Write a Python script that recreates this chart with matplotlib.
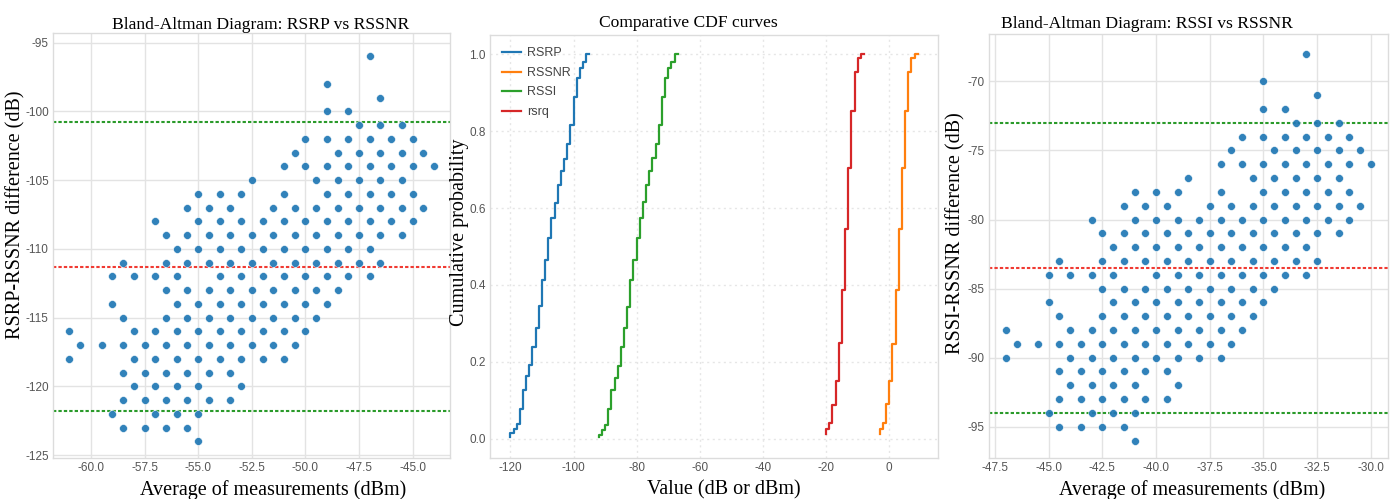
import matplotlib
matplotlib.use("Agg")
import matplotlib.pyplot as plt
import numpy as np

# Bland-Altman points, RSRP vs RSSNR: difference -> list of means
rsrp_ba_rows = {
    -96: [-47],
    -98: [-49],
    -99: [-46.5],
    -100: [-49, -48],
    -101: [-47.5, -46.5, -45.5],
    -102: [-50, -49, -48, -47, -46, -45],
    -103: [-50.5, -48.5, -47.5, -46.5, -45.5, -44.5],
    -104: [-51, -50, -49, -48, -47, -46, -45, -44],
    -105: [-52.5, -49.5, -48.5, -47.5, -46.5, -45.5],
    -106: [-55, -54, -53, -51, -49, -48, -47, -46, -45],
    -107: [-55.5, -54.5, -53.5, -51.5, -50.5, -49.5, -48.5, -47.5, -46.5, -45.5, -44.5],
    -108: [-57, -55, -54, -53, -52, -51, -50, -49, -48, -47, -46, -45],
    -109: [-56.5, -55.5, -54.5, -53.5, -52.5, -51.5, -50.5, -49.5, -48.5, -47.5, -46.5, -45.5],
    -110: [-56, -55, -54, -53, -52, -51, -50, -49, -48, -47],
    -111: [-58.5, -56.5, -55.5, -54.5, -53.5, -52.5, -51.5, -50.5, -49.5, -48.5, -47.5, -46.5],
    -112: [-59, -58, -57, -56, -54, -53, -52, -51, -50, -49, -48, -47],
    -113: [-56.5, -55.5, -54.5, -53.5, -52.5, -51.5, -50.5, -49.5, -48.5],
    -114: [-59, -56, -55, -54, -53, -52, -51, -50, -49],
    -115: [-58.5, -56.5, -55.5, -54.5, -53.5, -52.5, -51.5, -50.5, -49.5],
    -116: [-61, -58, -57, -56, -55, -54, -53, -52, -51, -50],
    -117: [-60.5, -59.5, -58.5, -57.5, -56.5, -55.5, -54.5, -53.5, -52.5, -51.5, -50.5],
    -118: [-61, -58, -57, -56, -55, -54, -53, -52, -51],
    -119: [-58.5, -57.5, -56.5, -55.5, -54.5, -53.5],
    -120: [-58, -57, -56, -55, -53],
    -121: [-58.5, -57.5, -56.5, -55.5, -54.5, -53.5],
    -122: [-59, -57, -56, -55],
    -123: [-58.5, -57.5, -56.5, -55.5],
    -124: [-55],
}
rsrp_mean_diff = -111.3
rsrp_loa = [-100.8, -121.8]

# Bland-Altman points, RSSI vs RSSNR
rssi_ba_rows = {
    -68: [-33],
    -70: [-35],
    -71: [-32.5],
    -72: [-35, -34],
    -73: [-33.5, -32.5, -31.5],
    -74: [-36, -35, -34, -33, -32, -31],
    -75: [-36.5, -34.5, -33.5, -32.5, -31.5, -30.5],
    -76: [-37, -36, -35, -34, -33, -32, -31, -30],
    -77: [-38.5, -35.5, -34.5, -33.5, -32.5, -31.5],
    -78: [-41, -40, -39, -37, -35, -34, -33, -32, -31],
    -79: [-41.5, -40.5, -39.5, -37.5, -36.5, -35.5, -34.5, -33.5, -32.5, -31.5, -30.5],
    -80: [-43, -41, -40, -39, -38, -37, -36, -35, -34, -33, -32, -31],
    -81: [-42.5, -41.5, -40.5, -39.5, -38.5, -37.5, -36.5, -35.5, -34.5, -33.5, -32.5, -31.5],
    -82: [-42, -41, -40, -39, -38, -37, -36, -35, -34, -33],
    -83: [-44.5, -42.5, -41.5, -40.5, -39.5, -38.5, -37.5, -36.5, -35.5, -34.5, -33.5, -32.5],
    -84: [-45, -44, -43, -42, -40, -39, -38, -37, -36, -35, -34, -33],
    -85: [-42.5, -41.5, -40.5, -39.5, -38.5, -37.5, -36.5, -35.5, -34.5],
    -86: [-45, -42, -41, -40, -39, -38, -37, -36, -35],
    -87: [-44.5, -42.5, -41.5, -40.5, -39.5, -38.5, -37.5, -36.5, -35.5],
    -88: [-47, -44, -43, -42, -41, -40, -39, -38, -37, -36],
    -89: [-46.5, -45.5, -44.5, -43.5, -42.5, -41.5, -40.5, -39.5, -38.5, -37.5, -36.5],
    -90: [-47, -44, -43, -42, -41, -40, -39, -38, -37],
    -91: [-44.5, -43.5, -42.5, -41.5, -40.5, -39.5],
    -92: [-44, -43, -42, -41, -39],
    -93: [-44.5, -43.5, -42.5, -41.5, -40.5, -39.5],
    -94: [-45, -43, -42, -41],
    -95: [-44.5, -43.5, -42.5, -41.5],
    -96: [-41],
}
rssi_mean_diff = -83.5
rssi_loa = [-73.0, -94.0]

# CDF curves: distinct values and cumulative probability
rsrp_vals = [-120, -119, -118, -117, -116, -115, -114, -113, -112, -111, -110, -109, -108,
             -107, -106, -105, -104, -103, -102, -101, -100, -99, -98, -97, -96, -95]
rsrp_cdf = [0.005, 0.015, 0.025, 0.038, 0.078, 0.128, 0.163, 0.193, 0.239, 0.288, 0.345, 0.412, 0.466,
            0.522, 0.574, 0.613, 0.659, 0.697, 0.728, 0.767, 0.816, 0.890, 0.938, 0.964, 0.981, 1.0]
rssnr_vals = [-3, -2, -1, 0, 1, 2, 3, 4, 5, 6, 7, 8, 9]
rssnr_cdf = [0.012, 0.026, 0.041, 0.090, 0.150, 0.247, 0.388, 0.545, 0.704, 0.853, 0.953, 0.990, 1.0]
rssi_vals = [-92, -91, -90, -89, -88, -87, -86, -85, -84, -83, -82, -81, -80,
             -79, -78, -77, -76, -75, -74, -73, -72, -71, -70, -69, -68, -67]
rssi_cdf = [0.005, 0.011, 0.023, 0.035, 0.078, 0.126, 0.158, 0.190, 0.239, 0.287, 0.343, 0.412, 0.464,
            0.522, 0.574, 0.616, 0.659, 0.697, 0.730, 0.767, 0.815, 0.890, 0.938, 0.964, 0.981, 1.0]
rsrq_vals = [-20, -19, -18, -17, -16, -15, -14, -13, -12, -11, -10, -9, -8]
rsrq_cdf = [0.012, 0.026, 0.040, 0.089, 0.150, 0.248, 0.388, 0.545, 0.704, 0.853, 0.953, 0.990, 1.0]

serif = ["Liberation Serif", "DejaVu Serif"]
narrow = ["Liberation Sans Narrow", "Liberation Sans", "DejaVu Sans"]
tick_col = "#555555"

plt.rcParams["font.family"] = narrow
plt.rcParams["axes.unicode_minus"] = False


def style_axes(ax, grid_ls="-", grid_col="#e3e3e3"):
    ax.set_facecolor("white")
    for s in ax.spines.values():
        s.set_color("#dcdcdc")
        s.set_linewidth(1.0)
    ax.grid(True, color=grid_col, linewidth=1.0, linestyle=grid_ls)
    ax.set_axisbelow(True)
    ax.tick_params(length=0, pad=3, labelsize=8.5, labelcolor=tick_col)


def bland_altman(ax, rows, mean_diff, loa):
    xs, ys = [], []
    for d, means in rows.items():
        for m in means:
            xs.append(m)
            ys.append(d)
    ax.scatter(xs, ys, s=32, color="#1f77b4", alpha=0.92, edgecolors="white", linewidths=0.4, zorder=3)
    ax.axhline(mean_diff, color="#f03a32", linestyle=(0, (1.6, 1.0)), linewidth=1.5, zorder=2)
    for v in loa:
        ax.axhline(v, color="#2a9a2a", linestyle=(0, (1.6, 1.0)), linewidth=1.5, zorder=2)


fig = plt.figure(figsize=(13.94, 4.99), dpi=100)
ax1 = fig.add_axes([0.038, 0.0822, 0.2848, 0.8517])
ax2 = fig.add_axes([0.3515, 0.0822, 0.3214, 0.8477])
ax3 = fig.add_axes([0.7095, 0.0822, 0.2862, 0.8497])

# left: RSRP vs RSSNR
style_axes(ax1)
bland_altman(ax1, rsrp_ba_rows, rsrp_mean_diff, rsrp_loa)
ax1.set_xlim(-61.77, -43.26)
ax1.set_ylim(-125.2, -94.3)
ax1.set_xticks([-60, -57.5, -55, -52.5, -50, -47.5, -45])
ax1.set_yticks([-125, -120, -115, -110, -105, -100, -95])
ax1.set_title("Bland-Altman Diagram: RSRP vs RSSNR", family=serif, fontsize=12.6, x=0.524, pad=3)
ax1.set_xlabel("Average of measurements (dBm)", family=serif, fontsize=14.5)
ax1.set_ylabel("RSRP-RSSNR difference (dB)", family=serif, fontsize=14.5)
ax1.xaxis.set_label_coords(0.555, -0.052)
ax1.yaxis.set_label_coords(-0.07, 0.572)

# middle: CDF curves
style_axes(ax2, grid_ls=(0, (1.5, 2.5)), grid_col="#e6e6e6")
ax2.step(rsrp_vals, rsrp_cdf, label="RSRP", linewidth=1.6)
ax2.step(rssnr_vals, rssnr_cdf, label="RSSNR", linewidth=1.6)
ax2.step(rssi_vals, rssi_cdf, label="RSSI", linewidth=1.6)
ax2.step(rsrq_vals, rsrq_cdf, label="rsrq", linewidth=1.6)
ax2.set_ylim(-0.05, 1.05)
ax2.set_xticks([-120, -100, -80, -60, -40, -20, 0])
ax2.set_yticks([0.0, 0.2, 0.4, 0.6, 0.8, 1.0])
ax2.set_title("Comparative CDF curves", family=serif, fontsize=12.6, x=0.443, pad=6)
ax2.set_xlabel("Value (dB or dBm)", family=serif, fontsize=14.5)
ax2.set_ylabel("Cumulative probability", family=serif, fontsize=14.5)
ax2.xaxis.set_label_coords(0.521, -0.052)
ax2.yaxis.set_label_coords(-0.047, 0.534)
leg = ax2.legend(loc="upper left", frameon=False, fontsize=9, handlelength=1.5,
                 handletextpad=0.5, borderaxespad=0.6, labelspacing=0.6)
for t in leg.get_texts():
    t.set_color("#444444")

# right: RSSI vs RSSNR
style_axes(ax3)
bland_altman(ax3, rssi_ba_rows, rssi_mean_diff, rssi_loa)
ax3.set_xlim(-47.78, -29.2)
ax3.set_ylim(-97.26, -66.57)
ax3.set_xticks([-47.5, -45, -42.5, -40, -37.5, -35, -32.5, -30])
ax3.set_yticks([-95, -90, -85, -80, -75, -70])
ax3.set_title("Bland-Altman Diagram: RSSI vs RSSNR", family=serif, fontsize=12.6, x=0.396, pad=4)
ax3.set_xlabel("Average of measurements (dBm)", family=serif, fontsize=14.5)
ax3.set_ylabel("RSSI-RSSNR difference (dB)", family=serif, fontsize=14.5)
ax3.xaxis.set_label_coords(0.509, -0.053)
ax3.yaxis.set_label_coords(-0.058, 0.53)

fig.savefig("out.png", dpi=100)
